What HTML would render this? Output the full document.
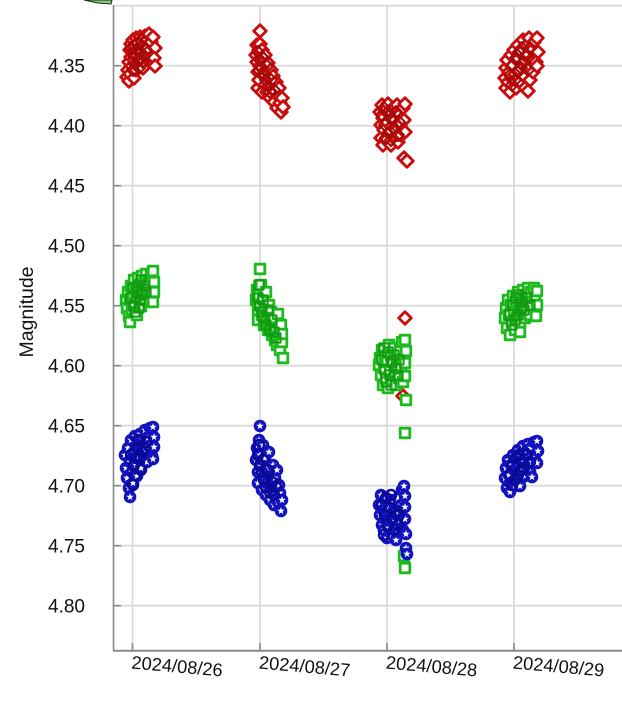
<!DOCTYPE html>
<html><head><meta charset="utf-8"><style>
html,body{margin:0;padding:0;background:#fff;}
svg{display:block;}
text{font-family:"Liberation Sans",Arial,sans-serif;fill:#111;}
</style></head><body>
<svg width="622" height="715" viewBox="0 0 622 715" xmlns="http://www.w3.org/2000/svg">
<defs>
<marker id="md" markerUnits="userSpaceOnUse" markerWidth="30" markerHeight="30" refX="0" refY="0" overflow="visible">
<path d="M0,-6.3 L6.3,0 L0,6.3 L-6.3,0 Z" fill="#fff" stroke="#cc0c0c" stroke-width="2.8" stroke-linejoin="round"/>
</marker>
<marker id="md2" markerUnits="userSpaceOnUse" markerWidth="30" markerHeight="30" refX="0" refY="0" overflow="visible">
<path d="M0,-6 L6,0 L0,6 L-6,0 Z" fill="none" stroke="#a80808" stroke-width="2" stroke-linejoin="round"/>
</marker>
<marker id="ms" markerUnits="userSpaceOnUse" markerWidth="30" markerHeight="30" refX="0" refY="0" overflow="visible">
<path d="M-4.8,-4.8 H4.8 V4.8 H-4.8 Z" fill="#fff" stroke="#1dba1d" stroke-width="2.8" stroke-linejoin="round"/>
</marker>
<marker id="ms2" markerUnits="userSpaceOnUse" markerWidth="30" markerHeight="30" refX="0" refY="0" overflow="visible">
<path d="M-4.6,-4.6 H4.6 V4.6 H-4.6 Z" fill="none" stroke="#139a13" stroke-width="2" stroke-linejoin="round"/>
</marker>
<marker id="mt" markerUnits="userSpaceOnUse" markerWidth="30" markerHeight="30" refX="0" refY="0" overflow="visible">
<circle cx="0" cy="0" r="6.3" fill="#1212bf"/>
<path d="M0,-3.9 L0.95,-1.31 L3.71,-1.2 L1.54,0.5 L2.29,3.15 L0,1.62 L-2.29,3.15 L-1.54,0.5 L-3.71,-1.2 L-0.95,-1.31 Z" fill="#fff"/>
</marker>
<marker id="mt2" markerUnits="userSpaceOnUse" markerWidth="30" markerHeight="30" refX="0" refY="0" overflow="visible">
<circle cx="0" cy="0" r="5" fill="none" stroke="#0a0a9a" stroke-width="2.4"/>
</marker>
</defs>

<!-- top-left partial legend item -->
<polygon points="84,0 112,0 111,4 98,3" fill="#7fd07f" stroke="#222" stroke-width="1"/>

<!-- grid -->
<g stroke="#dadada" stroke-width="1.8">
<line x1="113" y1="5.7" x2="622" y2="5.7"/>
<line x1="113" y1="65.7" x2="622" y2="65.7"/>
<line x1="113" y1="125.7" x2="622" y2="125.7"/>
<line x1="113" y1="185.7" x2="622" y2="185.7"/>
<line x1="113" y1="245.7" x2="622" y2="245.7"/>
<line x1="113" y1="305.7" x2="622" y2="305.7"/>
<line x1="113" y1="365.7" x2="622" y2="365.7"/>
<line x1="113" y1="425.7" x2="622" y2="425.7"/>
<line x1="113" y1="485.7" x2="622" y2="485.7"/>
<line x1="113" y1="545.7" x2="622" y2="545.7"/>
<line x1="113" y1="605.7" x2="622" y2="605.7"/>
<line x1="132.5" y1="5" x2="132.5" y2="650"/>
<line x1="260" y1="5" x2="260" y2="650"/>
<line x1="387" y1="5" x2="387" y2="650"/>
<line x1="514" y1="5" x2="514" y2="650"/>
</g>

<!-- axes -->
<g stroke="#8a8a8a" stroke-width="1.6">
<line x1="113.5" y1="5" x2="113.5" y2="651"/>
<line x1="113" y1="650.7" x2="622" y2="650.7" stroke-width="2"/>
<line x1="113" y1="65.7" x2="121" y2="65.7"/>
<line x1="113" y1="125.7" x2="121" y2="125.7"/>
<line x1="113" y1="185.7" x2="121" y2="185.7"/>
<line x1="113" y1="245.7" x2="121" y2="245.7"/>
<line x1="113" y1="305.7" x2="121" y2="305.7"/>
<line x1="113" y1="365.7" x2="121" y2="365.7"/>
<line x1="113" y1="425.7" x2="121" y2="425.7"/>
<line x1="113" y1="485.7" x2="121" y2="485.7"/>
<line x1="113" y1="545.7" x2="121" y2="545.7"/>
<line x1="113" y1="605.7" x2="121" y2="605.7"/>
<line x1="132.5" y1="650" x2="132.5" y2="643"/>
<line x1="260" y1="650" x2="260" y2="643"/>
<line x1="387" y1="650" x2="387" y2="643"/>
<line x1="514" y1="650" x2="514" y2="643"/>
</g>

<!-- y tick labels -->
<g font-size="19" text-anchor="end">
<text x="85" y="72.4">4.35</text>
<text x="85" y="132.4">4.40</text>
<text x="85" y="192.4">4.45</text>
<text x="85" y="252.4">4.50</text>
<text x="85" y="312.4">4.55</text>
<text x="85" y="372.4">4.60</text>
<text x="85" y="432.4">4.65</text>
<text x="85" y="492.4">4.70</text>
<text x="85" y="552.4">4.75</text>
<text x="85" y="612.4">4.80</text>
</g>

<text font-size="19.5" text-anchor="middle" transform="translate(33,312) rotate(-90)">Magnitude</text>

<!-- x tick labels -->
<g font-size="18.3">
<text transform="translate(131,668.5) rotate(5)">2024/08/26</text>
<text transform="translate(258.5,668.5) rotate(5)">2024/08/27</text>
<text transform="translate(385.5,668.5) rotate(5)">2024/08/28</text>
<text transform="translate(512.5,668.5) rotate(5)">2024/08/29</text>
</g>

<!-- RED -->
<g fill="none" stroke="none" marker-start="url(#md)" marker-mid="url(#md)" marker-end="url(#md)">
<polyline points="127,77 128,70 129,81 129,62 130,50 130,74 131,44 131,57 132,66 133,40 133,52 134,78 134,60 135,46 136,70 136,38 137,55 138,43 139,64 139,49 140,37 141,58 142,41 142,52 143,68 144,45 145,36 146,55 147,40 148,48 149,34 150,60 151,42 153,37 155,48 154,58 155,66"/>
<polyline points="256,55 257,62 257,45 258,72 258,88 259,50 259,80 260,31 260,44 260,66 261,58 262,92 262,50 263,75 264,62 265,55 265,85 266,70 267,92 268,63 269,78 270,98 271,70 272,86 273,76 274,102 275,92 276,82 277,108 278,96 279,88 280,103 281,112 282,98 283,107"/>
<polyline points="380,112 381,125 381,138 382,105 383,118 383,145 384,130 385,110 386,140 387,122 388,104 389,133 390,115 391,145 392,126 393,108 394,138 395,120 396,130 397,105 398,142 399,115 400,125 401,135 403,108 404,120 405,104 405,132 404,158 407,161"/>
<polyline points="405,318 403,396"/>
<polyline points="505,78 506,68 506,88 507,60 508,82 509,72 510,92 511,55 512,66 513,80 514,50 515,74 516,88 517,60 518,45 519,70 520,82 521,52 522,64 523,40 524,76 525,88 526,56 527,45 528,68 529,38 530,80 531,60 532,50 533,72 534,42 536,62 528,91 537,38 538,52 537,66"/>
</g>
<g fill="none" stroke="none" marker-start="url(#md2)" marker-mid="url(#md2)" marker-end="url(#md2)">
<polyline points="131,48 134,56 137,44 135,64 140,52 138,60 142,46 133,70 144,56 141,40 146,50 136,50 139,68 143,62"/>
<polyline points="258,52 260,60 262,68 264,74 266,80 268,86 270,92 259,70 263,58 267,66 271,80 274,90"/>
<polyline points="382,115 385,125 388,112 390,132 392,118 394,128 386,138 396,112 398,135 384,108 391,140 399,122"/>
<polyline points="510,75 513,65 516,58 519,52 522,48 512,85 518,72 524,62 527,55 530,48 515,80 521,68 528,70"/>
</g>

<!-- GREEN -->
<g fill="none" stroke="none" marker-start="url(#ms)" marker-mid="url(#ms)" marker-end="url(#ms)">
<polyline points="126,300 127,308 128,292 129,316 130,322 130,300 131,286 132,310 133,295 134,280 135,304 136,288 137,315 138,278 139,297 140,285 141,306 142,276 143,292 144,300 145,282 146,274 147,295 148,288 149,280 150,300 151,274 153,271 154,282 154,292 153,302"/>
<polyline points="256,300 257,290 258,310 258,320 259,295 260,269 260,305 261,285 262,315 263,298 264,325 265,308 266,292 267,318 268,330 269,305 270,322 271,312 272,335 273,326 274,318 275,340 276,330 277,345 278,314 279,336 280,350 281,325 282,342 282,334 283,358"/>
<polyline points="379,365 380,358 381,375 382,350 383,385 384,368 385,356 386,378 387,362 388,388 389,345 390,370 391,355 392,380 393,362 394,348 395,372 396,385 397,358 398,365 399,378 400,350 401,368 402,342 403,382 405,340 406,351 405,363 405,376 406,400 405,433 404,556 405,568"/>
<polyline points="505,318 506,308 507,328 508,300 509,315 510,335 511,305 512,322 513,296 514,312 515,330 516,302 517,318 518,292 519,308 520,325 521,298 522,315 523,290 524,305 525,318 526,295 527,310 528,288 529,302 530,315 531,292 532,306 520,332 534,288 535,298 537,291 537,305 536,316"/>
</g>
<g fill="none" stroke="none" marker-start="url(#ms2)" marker-mid="url(#ms2)" marker-end="url(#ms2)">
<polyline points="131,298 134,306 137,292 135,312 140,300 138,286 142,294 133,288 144,286 141,280 146,292 136,298 139,308"/>
<polyline points="258,298 260,306 262,312 264,318 266,325 268,310 270,330 272,320 259,285 263,300 274,332 276,338"/>
<polyline points="382,360 385,370 388,352 390,375 392,362 394,355 386,382 396,368 398,375 384,348 391,385 399,360"/>
<polyline points="510,315 513,305 516,298 519,295 522,302 512,325 518,315 524,310 527,298 530,305 515,320 521,308"/>
</g>

<!-- BLUE -->
<g fill="none" stroke="none" marker-start="url(#mt)" marker-mid="url(#mt)" marker-end="url(#mt)">
<polyline points="125,455 126,468 127,478 128,448 129,488 130,497 130,462 131,440 132,472 133,483 134,452 135,436 136,465 137,476 138,445 139,456 140,434 141,468 142,448 143,440 144,458 145,430 146,450 147,462 148,438 149,446 150,428 152,456 153,427 154,437 154,447 153,459"/>
<polyline points="256,460 257,448 258,472 258,483 259,440 260,426 260,455 261,466 262,490 263,445 264,476 265,458 266,495 267,468 268,482 269,452 270,500 271,476 272,488 273,465 274,505 275,478 276,494 277,470 278,502 279,485 280,493 282,500 281,511"/>
<polyline points="379,505 380,515 381,495 382,525 383,510 384,530 385,500 386,520 387,538 388,508 389,528 390,515 391,500 392,535 393,522 394,510 395,528 396,540 397,515 398,498 399,532 400,520 401,505 402,490 403,530 404,486 405,496 405,507 405,519 406,534 406,548 407,554"/>
<polyline points="505,478 506,468 507,488 508,460 509,475 510,492 511,465 512,482 513,455 514,470 515,486 516,460 517,475 518,450 519,466 520,480 521,456 522,470 523,446 524,462 525,476 526,452 527,466 528,444 529,458 530,472 531,448 532,462 520,486 532,477 534,442 535,455 537,441 538,451 537,463"/>
</g>
<g fill="none" stroke="none" marker-start="url(#mt2)" marker-mid="url(#mt2)" marker-end="url(#mt2)">
<polyline points="131,455 134,465 137,448 135,475 140,458 138,440 142,452 133,485 144,448 141,470 146,442 136,458"/>
<polyline points="258,455 260,465 262,472 264,480 266,487 268,470 270,492 272,482 259,445 263,460 274,495 276,487"/>
<polyline points="382,505 385,515 388,525 390,508 392,518 394,530 386,498 396,512 398,525 384,535 391,495 399,515"/>
<polyline points="510,475 513,465 516,458 519,455 522,462 512,485 518,475 524,468 527,455 530,462 515,480 521,470"/>
</g>
</svg>
</body></html>
